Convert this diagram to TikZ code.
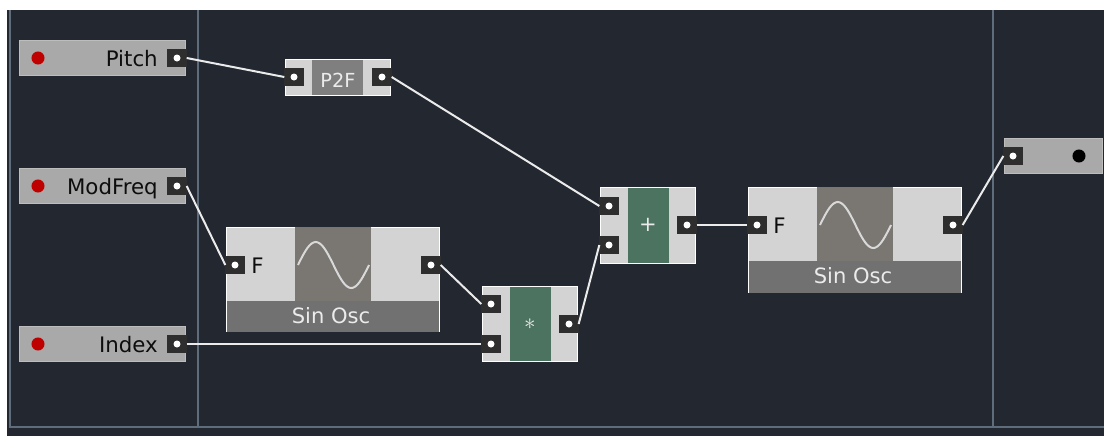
\documentclass[tikz,border=0pt]{standalone}
\usepackage{fontspec}
\setmainfont{DejaVu Sans}
\definecolor{panelbg}{HTML}{232830}
\definecolor{panelline}{HTML}{5F6C7C}
\definecolor{iogrey}{HTML}{A9A9A9}
\definecolor{iorim}{HTML}{BDBDBD}
\definecolor{modlight}{HTML}{D3D3D3}
\definecolor{modfoot}{HTML}{717171}
\definecolor{modscreen}{HTML}{7A7672}
\definecolor{modgreen}{HTML}{4B735F}
\definecolor{portdark}{HTML}{2E2E2E}
\tikzset{
  block/.style 2 args = {shape=rectangle, inner sep=0pt, outer sep=0pt,
                         minimum width=#1*0.75pt-0.5pt, minimum height=#2*0.75pt-0.5pt},
  iobox/.style 2 args = {block={#1}{#2}, fill=iogrey, draw=iorim, line width=1pt},
  modbox/.style 2 args = {block={#1}{#2}, fill=modlight, draw=white, line width=1pt},
  foot/.style 2 args  = {block={#1}{#2}, fill=modfoot},
  screen/.style 2 args = {block={#1}{#2}, fill=modscreen},
  gridbar/.style      = {draw=panelline, line width=1.5pt},
  port/.style         = {block={20}{18}, fill=portdark,
                         path picture={\fill[white] (path picture bounding box.center) circle (3.5);}},
  wire/.style         = {draw=white!92!black, line width=1.5pt},
  lamp/.style         = {circle, inner sep=0pt, minimum size=9.8pt},
  darklabel/.style    = {inner sep=0pt, font=\fontsize{16}{18}\selectfont, text=black!95},
  lightlabel/.style   = {inner sep=0pt, font=\fontsize{15.8}{18}\selectfont, text=white!92!black},
  sinewave/.style     = {draw=white!85!black, line width=1.5pt, smooth}
}
\begin{document}
\begin{tikzpicture}[x=0.75pt, y=-0.75pt]
  \useasboundingbox (0,0) rectangle (1104,436);
  \fill[white] (0,0) rectangle (1104,436);
  \fill[panelbg] (7,10) rectangle (1104,436);
  \draw[gridbar] (10,10) -- (10,427) -- (1104,427);
  \draw[gridbar] (198,10) -- (198,427);
  \draw[gridbar] (993,10) -- (993,427);

  % inputs
  \node [iobox={167}{36}] (pitch) at (102.5,58) {};
  \node [iobox={167}{36}] (modfreq) at (102.5,186) {};
  \node [iobox={167}{36}] (index) at (102.5,344) {};
  \node [lamp, fill=red!75!black] (pitchlamp) at (38,58) {};
  \node [lamp, fill=red!75!black] (modfreqlamp) at (38,186) {};
  \node [lamp, fill=red!75!black] (indexlamp) at (38,344) {};
  \node [darklabel, anchor=base east] (pitchtext) at (158,66) {Pitch};
  \node [darklabel, anchor=base east] (modfreqtext) at (158,194) {ModFreq};
  \node [darklabel, anchor=base east] (indextext) at (158,352) {Index};

  % p2f
  \node [modbox={106}{37}] (p2f) at (338,77.5) {};
  \node [foot={51}{36}, fill=modfoot!90!white] (p2fmid) at (337.5,77.5) {};
  \node [lightlabel, anchor=base, font=\fontsize{14.5}{18}\selectfont] (p2ftext) at (338,87) {P2F};

  % first osc
  \node [modbox={214}{105}] (oscA) at (333,279.5) {};
  \node [foot={213}{31}] (oscAfoot) at (333,316.5) {};
  \node [screen={76}{74}] (oscAscreen) at (333,264) {};
  \node [darklabel, anchor=base west] (oscAf) at (251,273) {F};
  \node [lightlabel, anchor=base] (oscAtext) at (331,323) {Sin Osc};
  \draw [sinewave] plot [domain=0:360, samples=37] ({298+\x/360*71},{265-23*sin(\x)});

  % multiply
  \node [modbox={96}{76}] (mult) at (530,324) {};
  \node [block={41}{75}, fill=modgreen] (multmid) at (530.5,324) {};
  \node [lightlabel, font=\fontsize{18}{18}\selectfont] (multtext) at (530,324) {$*$};

  % add
  \node [modbox={96}{77}] (add) at (648,225.5) {};
  \node [block={41}{76}, fill=modgreen] (addmid) at (648.5,225.5) {};
  \node [lightlabel] (addtext) at (648,225) {+};

  % second osc
  \node [modbox={214}{106}] (oscB) at (855,240) {};
  \node [foot={213}{32}] (oscBfoot) at (855,277) {};
  \node [screen={76}{74}] (oscBscreen) at (855,224) {};
  \node [darklabel, anchor=base west] (oscBf) at (773,233) {F};
  \node [lightlabel, anchor=base] (oscBtext) at (853,283) {Sin Osc};
  \draw [sinewave] plot [domain=0:360, samples=37] ({820+\x/360*71},{225-23*sin(\x)});

  % output
  \node [iobox={99}{36}] (out) at (1053.5,156) {};
  \node [lamp, fill=black] (outlamp) at (1079,156) {};

  % ports
  \node [port] (pitchout) at (177,58) {};
  \node [port] (modfreqout) at (177,186) {};
  \node [port] (indexout) at (177,344) {};
  \node [port] (p2fin) at (294,77) {};
  \node [port] (p2fout) at (382,77) {};
  \node [port] (oscAin) at (235,265) {};
  \node [port] (oscAout) at (431,265) {};
  \node [port] (multinA) at (491,304) {};
  \node [port] (multinB) at (491,344) {};
  \node [port] (multout) at (569,324) {};
  \node [port] (addinA) at (609,206) {};
  \node [port] (addinB) at (609,245) {};
  \node [port] (addout) at (687,225) {};
  \node [port] (oscBin) at (757,225) {};
  \node [port] (oscBout) at (953,225) {};
  \node [port] (outin) at (1013,156) {};

  % wires
  \draw [wire] (pitchout.east) -- (p2fin.west);
  \draw [wire] (p2fout.east) -- (addinA.west);
  \draw [wire] (modfreqout.east) -- (oscAin.west);
  \draw [wire] (indexout.east) -- (multinB.west);
  \draw [wire] (oscAout.east) -- (multinA.west);
  \draw [wire] (multout.east) -- (addinB.west);
  \draw [wire] (addout.east) -- (oscBin.west);
  \draw [wire] (oscBout.east) -- (outin.west);
\end{tikzpicture}
\end{document}
